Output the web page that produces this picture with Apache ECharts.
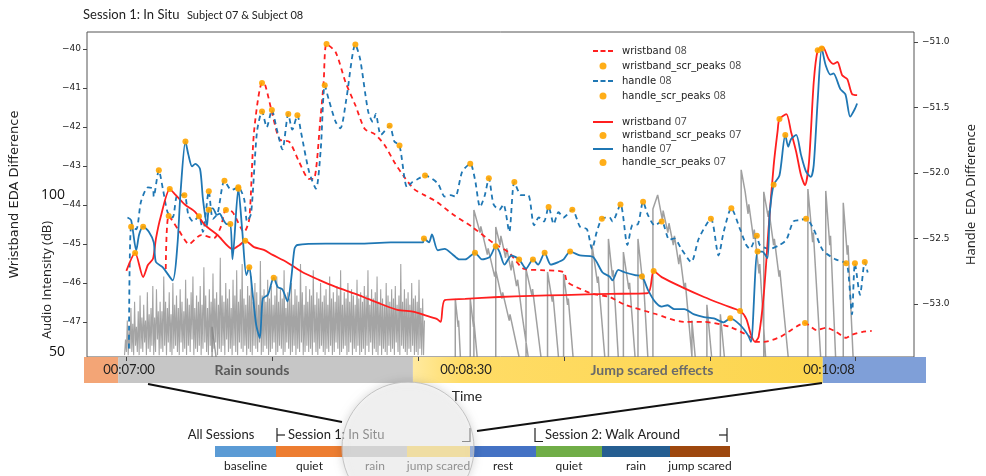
<!DOCTYPE html>
<html>
<head>
<meta charset="utf-8">
<script src="https://cdn.jsdelivr.net/npm/echarts@6/dist/echarts.min.js"></script>
<style>
  html, body { margin: 0; padding: 0; background: #fff; }
  #chart { width: 986px; height: 476px; }
</style>
</head>
<body>
<div id="chart"></div>
<script>
// ---- EDA traces: [time (s), value] ----
// wristband traces use the left axis, handle traces the right axis
const wristband08 = [
  [430.8,-45.64],[431.6,-44.28],[434.3,-44.64],[437.2,-45.0],[440.5,-44.77],[444.0,-44.85],[445.9,-44.56],
  [447.3,-44.13],[449.1,-44.18],[452.3,-44.69],[453.7,-44.36],[455.0,-42.13],[457.2,-40.87],[458.0,-40.9],
  [460.1,-41.69],[462.0,-42.31],[464.7,-42.38],[467.4,-42.90],[470.1,-43.33],[471.4,-43.33],[473.3,-41.69],
  [474.1,-40.85],[474.9,-39.87],[477.4,-40.08],[480.1,-40.85],[482.8,-41.44],[485.4,-42.05],[488.1,-42.18],
  [490.8,-42.46],[493.5,-42.90],[496.2,-43.28],[498.9,-43.59],[501.6,-43.74],[505.1,-43.92],[509.4,-44.23],
  [514.8,-44.56],[521.0,-45.0],[524.8,-45.21],[529.1,-45.64],[533.7,-45.67],[539.9,-45.72],[540.9,-45.97],
  [544.4,-46.15],[547.9,-46.28],[552.5,-46.36],[556.8,-46.56],[564.9,-46.79],[573.0,-47.0],[578.4,-47.0],
  [585.6,-47.13],[591.0,-47.38],[592.6,-47.51],[594.8,-47.51],[599.4,-47.38],[606.1,-47.03],[609.3,-47.21],
  [612.0,-47.15],[614.7,-47.26],[617.4,-47.41],[619.0,-47.33],[621.7,-47.26],[624.4,-47.23]
];
const wristband08Peaks = [[431.6,-44.28],[447.3,-44.13],[457.2,-40.87],[474.9,-39.87],[606.1,-47.03]];

const handle08 = [
  [420.7,-53.34],[421.3,-52.41],[422.7,-52.43],[424.0,-52.22],[425.9,-52.11],[427.3,-52.12],[427.5,-52.18],
  [428.9,-51.98],[430.0,-52.12],[431.3,-52.30],[432.7,-52.34],[434.0,-52.17],[435.9,-52.17],[437.0,-52.32],
  [438.3,-52.37],[439.9,-52.33],[441.0,-52.45],[442.6,-52.14],[443.7,-52.35],[445.0,-52.31],[446.9,-52.06],
  [448.8,-52.13],[450.7,-52.11],[452.3,-52.20],[453.1,-52.37],[454.2,-52.31],[455.8,-51.69],[457.2,-51.53],
  [458.5,-51.65],[459.9,-51.52],[461.2,-51.66],[462.8,-51.82],[464.4,-51.55],[465.5,-51.67],[466.9,-51.56],
  [467.9,-51.69],[470.1,-51.99],[472.0,-52.12],[473.3,-51.82],[474.4,-51.33],[475.5,-51.44],[477.4,-51.61],
  [478.7,-51.66],[480.3,-51.44],[482.8,-51.02],[484.1,-51.13],[486.3,-51.53],[487.6,-51.61],[488.4,-51.55],
  [489.8,-51.71],[492.2,-51.64],[493.5,-51.76],[494.9,-51.79],[497.0,-52.11],[498.4,-52.07],[499.7,-52.05],
  [501.9,-52.02],[505.4,-52.08],[507.3,-52.18],[508.9,-52.17],[510.2,-52.18],[512.1,-51.99],[514.3,-51.93],
  [515.6,-52.05],[517.0,-52.26],[518.3,-52.17],[519.4,-52.04],[520.7,-52.24],[522.3,-52.28],[523.4,-52.24],
  [525.0,-52.45],[526.4,-52.07],[528.3,-52.17],[530.2,-52.17],[531.8,-52.40],[533.1,-52.34],[534.5,-52.37],
  [535.8,-52.26],[537.2,-52.39],[538.5,-52.30],[539.9,-52.34],[542.3,-52.28],[544.4,-52.41],[546.3,-52.43],
  [547.7,-52.58],[549.0,-52.45],[550.4,-52.35],[552.5,-52.34],[553.3,-52.37],[555.5,-52.24],[557.4,-52.55],
  [558.7,-52.40],[560.3,-52.39],[561.7,-52.22],[563.0,-52.32],[564.9,-52.40],[566.8,-52.37],[568.9,-52.51],
  [570.3,-52.50],[572.2,-52.58],[574.9,-52.68],[577.0,-52.50],[580.3,-52.35],[582.4,-52.63],[583.8,-52.45],
  [585.9,-52.27],[588.3,-52.43],[590.0,-52.55],[591.0,-52.58],[592.9,-52.48],[593.7,-52.55],[596.4,-52.58],
  [599.1,-52.55],[601.0,-52.51],[602.9,-52.37],[604.5,-52.36],[606.4,-52.35],[608.5,-52.43],[611.0,-52.59],
  [614.5,-52.66],[617.4,-52.69],[618.0,-52.76],[619.0,-53.08],[619.8,-52.69],[621.2,-52.93],[622.5,-52.68],
  [623.3,-52.76]
];
const handle08Peaks = [
  [421.3,-52.41],[428.9,-51.98],[435.9,-52.17],[439.9,-52.33],[442.6,-52.14],[446.9,-52.06],[450.7,-52.11],
  [457.2,-51.53],[459.9,-51.52],[464.4,-51.55],[466.9,-51.56],[474.4,-51.33],[482.8,-51.02],[492.2,-51.64],
  [494.9,-51.79],[501.9,-52.02],[514.3,-51.93],[519.4,-52.04],[526.4,-52.07],[535.8,-52.26],[542.3,-52.28],
  [550.4,-52.35],[555.5,-52.24],[561.7,-52.22],[566.8,-52.37],[580.3,-52.35],[585.9,-52.27],[592.9,-52.48],
  [606.4,-52.35],[617.4,-52.69],[619.8,-52.69],[622.5,-52.68]
];

const wristband07 = [
  [420.0,-45.69],[422.4,-45.23],[424.6,-45.85],[425.9,-45.54],[427.3,-45.38],[428.1,-44.87],[429.4,-44.31],
  [431.9,-43.59],[433.5,-43.74],[436.2,-44.0],[438.9,-44.18],[441.5,-44.51],[445.0,-44.77],[449.1,-45.13],
  [451.0,-45.03],[452.6,-44.92],[455.0,-45.08],[457.7,-45.15],[460.1,-45.28],[463.9,-45.46],[468.2,-45.72],
  [472.8,-45.92],[477.4,-46.10],[482.8,-46.28],[486.3,-46.41],[489.8,-46.54],[494.3,-46.69],[498.9,-46.74],
  [501.6,-46.82],[505.1,-46.92],[506.2,-47.0],[507.3,-46.44],[512.9,-46.41],[522.1,-46.36],[531.0,-46.33],
  [539.9,-46.31],[552.5,-46.28],[563.0,-46.26],[564.6,-45.69],[566.8,-45.85],[572.2,-46.10],[578.4,-46.36],
  [583.8,-46.56],[588.3,-46.72],[590.0,-46.92],[591.3,-47.33],[592.4,-47.51],[593.4,-47.38],[594.8,-46.3],
  [596.2,-44.5],[597.5,-43.0],[598.6,-42.1],[599.1,-41.79],[601.0,-41.67],[602.3,-42.13],[603.7,-42.64],
  [605.0,-43.23],[606.1,-43.49],[607.2,-42.90],[608.5,-40.85],[609.6,-40.03],[611.0,-39.95],[612.6,-40.26],
  [613.9,-40.38],[615.0,-40.33],[616.3,-40.67],[617.7,-40.77],[619.0,-41.15],[620.4,-41.18]
];
const wristband07Peaks = [[422.4,-45.23],[431.9,-43.59],[452.6,-44.92],[564.6,-45.69],[588.3,-46.72],[599.1,-41.79],[609.6,-40.03]];

const handle07 = [
  [420.3,-52.34],[421.3,-52.36],[422.7,-52.59],[423.5,-52.47],[424.6,-52.41],[426.2,-52.45],[427.5,-52.53],
  [428.1,-52.68],[430.0,-52.72],[432.7,-52.82],[434.0,-52.55],[434.8,-52.17],[436.2,-51.76],[437.0,-51.86],
  [438.0,-51.95],[438.9,-51.93],[440.2,-51.97],[441.0,-52.20],[442.1,-52.40],[442.6,-52.28],[443.7,-52.27],
  [444.8,-52.32],[445.6,-52.31],[446.4,-52.35],[447.5,-52.39],[448.5,-52.39],[449.1,-52.66],[450.7,-52.12],
  [451.8,-52.45],[452.9,-52.78],[453.7,-52.72],[454.5,-52.89],[455.6,-53.16],[456.6,-53.26],[457.4,-52.96],
  [458.8,-52.93],[460.4,-52.80],[461.5,-52.87],[462.8,-52.89],[464.2,-52.98],[465.2,-52.81],[466.1,-52.58],
  [466.9,-52.55],[474.7,-52.54],[483.6,-52.54],[492.5,-52.53],[501.3,-52.53],[501.6,-52.50],[503.0,-52.53],
  [503.8,-52.47],[505.4,-52.59],[507.3,-52.58],[509.4,-52.62],[511.3,-52.66],[512.9,-52.66],[515.6,-52.61],
  [517.5,-52.66],[519.7,-52.64],[521.3,-52.56],[522.3,-52.60],[523.7,-52.70],[525.6,-52.63],[527.7,-52.66],
  [529.6,-52.73],[531.5,-52.66],[532.9,-52.70],[534.7,-52.61],[536.4,-52.70],[538.5,-52.68],[539.9,-52.66],
  [541.7,-52.60],[544.4,-52.63],[547.9,-52.64],[550.6,-52.76],[552.5,-52.79],[553.3,-52.82],[554.9,-52.74],
  [556.8,-52.76],[559.5,-52.78],[561.4,-52.79],[563.0,-52.89],[564.9,-52.98],[566.8,-53.02],[568.4,-53.01],
  [570.3,-53.04],[573.0,-53.04],[575.7,-53.08],[578.4,-53.10],[581.1,-53.11],[583.8,-53.14],[585.6,-53.11],
  [588.3,-53.16],[590.5,-53.24],[591.3,-53.29],[593.1,-52.60],[594.4,-52.60],[595.8,-52.65],[596.4,-52.32],
  [597.5,-52.09],[599.1,-52.02],[600.7,-51.71],[601.5,-51.80],[602.3,-51.74],[603.7,-51.71],[605.0,-51.86],
  [606.4,-51.99],[607.7,-52.03],[608.5,-51.94],[609.6,-51.44],[610.7,-51.05],[611.8,-51.18],[613.1,-51.25],
  [613.9,-51.24],[615.8,-51.36],[617.2,-51.40],[618.5,-51.57],[619.8,-51.51],[620.4,-51.47]
];
const handle07Peaks = [
  [424.6,-52.41],[436.2,-51.76],[442.6,-52.28],[448.5,-52.39],[450.7,-52.12],[453.7,-52.72],[460.4,-52.80],
  [501.6,-52.50],[515.6,-52.61],[521.3,-52.56],[527.7,-52.66],[531.5,-52.66],[534.7,-52.61],[541.7,-52.60],
  [561.4,-52.79],[585.6,-53.11],[593.1,-52.60],[597.5,-52.09],[600.7,-51.71],[610.7,-51.05]
];

// ---- audio intensity (dB) ----
// rain sounds: peak level of each 0.5 s window
const audioRainStart = 419.5;
const audioRainStep = 0.5;
const audioRainPeaks = [
  54,60,57,64,59,66,58,63,68,61, 65,60,69,62,64,71,61,70,63,66,
  63,74,66,64,69,62,72,65,68,64, 70,66,63,73,67,65,69,74,64,68,
  66,71,65,77,68,64,70,66,75,67, 69,65,80,68,66,72,67,70,64,73,
  68,76,66,70,78,67,65,71,68,74, 66,72,69,65,79,68,70,66,73,67,
  71,65,68,74,66,70,67,76,64,69, 67,72,65,70,68,66,78,69,65,71,
  66,70,68,76,65,69,67,72,66,68, 70,65,74,67,69,66,71,68,76,65,
  69,67,72,66,70,68,65,73,67,69, 66,71,68,76,65,70,67,69,74,66,
  70,67,65,72,68,66,70,67,71,65, 68,78,66,70,67,69,65,72,67,68,
  66,73,64,67,60
];
// rain sounds: trough level of each window
const audioRainTroughs = [
  49,50,49,51,50,49,52,50,49,51, 50,53,49,51,50,52,49,50,54,49,
  51,50,52,49,53,50,49,51,52,50, 49,53,50,51,49,52,50,54,49,51,
  50,52,49,51,53,50,49,52,50,51, 53,49,51,50,52,49,54,50,51,49,
  52,50,49,53,51,50,52,49,51,50, 49,52,51,50,53,49,50,52,51,49,
  50,51,53,49,50,52,51,49,50,53, 51,49,50,52,49,51,50,53,49,50,
  52,50,51,49,53,50,49,51,52,50, 49,51,50,52,49,50,53,51,49,50,
  51,52,49,50,53,49,51,50,52,49, 50,51,49,52,50,53,49,51,50,49,
  52,49,51,50,49,52,50,51,49,53, 50,49,52,51,50,49,51,50,52,49,
  50,49,51,49,49
];
// jump scared effects: sharp onsets that decay
const audioJumpBursts = [
  [[443.5,48.4],[443.5,58],[444.6,48.4]],
  [[510.2,48.4],[510.2,66.9],[511.0,58],[511.1,60],[511.6,48.4]],
  [[514.3,48.4],[514.3,66.9],[515.2,58],[515.3,60],[516.2,48.4]],
  [[515.3,48.4],[515.3,95.2],[517.0,88],[517.2,90],[519.0,81],[519.2,83],[521.0,74],[521.3,76],[523.0,67],[523.2,69],[525.0,60],[525.2,62],[527.7,48.4]],
  [[521.3,48.4],[521.3,89.8],[522.5,84],[522.7,87],[524.0,80],[524.3,83],[525.5,76],[525.8,79],[527.0,71],[527.3,73],[528.5,62],[530.2,48.4]],
  [[529.6,48.4],[529.6,76.4],[531.2,68],[531.4,70],[533.7,48.4]],
  [[535.5,48.4],[535.5,75.5],[536.8,66],[537.0,68],[538.5,48.4]],
  [[539.9,48.4],[539.9,74.8],[541.0,65],[541.2,67],[542.5,48.4]],
  [[547.7,48.4],[547.7,84.1],[549.2,72],[549.4,74],[551.2,48.4]],
  [[552.2,48.4],[552.2,86.0],[553.3,74],[553.5,76],[554.9,48.4]],
  [[556.3,48.4],[556.3,81.8],[557.8,70],[558.0,72],[559.5,48.4]],
  [[560.3,48.4],[560.3,86.0],[561.5,73],[561.7,75],[563.0,48.4]],
  [[564.4,48.4],[564.4,95.5],[565.7,100],[567.0,92],[567.2,95],[568.5,88],[568.8,91],[570.0,84],[570.3,87],[571.5,78],[571.8,81],[573.0,70],[573.3,72],[575.1,48.4]],
  [[575.1,48.4],[575.1,60],[576.0,48.4]],
  [[579.2,48.4],[579.2,65],[580.5,48.4]],
  [[582.9,48.4],[582.9,62],[584.0,48.4]],
  [[588.6,48.4],[588.6,108],[589.7,101],[590.5,94],[590.7,97],[592.0,86],[592.2,89],[593.5,75],[593.7,78],[595.3,48.4]],
  [[594.8,48.4],[594.8,101],[596.0,93],[596.2,95],[597.5,84],[597.7,86],[599.0,74],[599.2,76],[601.5,48.4]],
  [[606.9,48.4],[606.9,101.9],[608.2,85],[608.4,88],[610.4,48.4]],
  [[611.8,48.4],[611.8,101.3],[612.9,84],[613.1,87],[614.5,48.4]],
  [[616.6,48.4],[616.6,97.5],[617.7,81],[617.9,84],[619.3,48.4]]
];

// ---- stimulus band under the time axis ----
const stimulusBand = [[409.2,418.4],[418.4,497.8],[497.8,608.2],[608.2,636.0]];

// ---- overall session timeline (relative durations) ----
const sessionSegments = [[0,61],[61,128],[128,192],[192,255],[255,321],[321,387],[387,455],[455,515]];
const sessionNames = ['baseline','quiet','rain','jump scared','rest','quiet','rain','jump scared'];
const sessionColors = ['#5b9bd5','#ed7d31','#bfbfbf','#ffd54f','#4472c4','#70ad47','#255e91','#9e480e'];

// ---- axis ticks ----
const wristTicks = [-47,-46,-45,-44,-43,-42,-41,-40];
const handleTicks = [-53.0,-52.5,-52.0,-51.5,-51.0];
const audioTicks = [50,100];
const timeTicks = [420,460,500,540,580,620];

// ---------------------------------------------------------------
const RED = '#ff1f1f', BLUE = '#1f77b4', PEAK = '#ffa500';
const tickFont = 'DejaVu Sans';
const minusFmt = d => v => (v < 0 ? '\u2212' : '') + Math.abs(v).toFixed(d);

const rainLine = [];
audioRainPeaks.forEach((p, i) => {
  const t = audioRainStart + i * audioRainStep;
  rainLine.push([t, audioRainTroughs[i]], [t + audioRainStep / 2, p]);
});
const jumpLine = [];
audioJumpBursts.forEach(b => { b.forEach(pt => jumpLine.push(pt)); jumpLine.push('-'); });

const bandFill = [
  '#f3a576',
  '#c6c6c6',
  new echarts.graphic.LinearGradient(0, 0, 1, 0, [
    {offset: 0, color: '#ffeaa0'}, {offset: 0.12, color: '#ffdc66'}, {offset: 1, color: '#fcd54e'}
  ]),
  '#7f9fd8'
];

const chart = echarts.init(document.getElementById('chart'));

const legendRich = {
  a: {fontFamily: tickFont, fontSize: 10, color: '#222'},
  b: {fontFamily: 'Open Sans', fontSize: 10.5, color: '#444'}
};
const legendFmt = name => {
  const i = name.lastIndexOf(' ');
  return '{a|' + name.slice(0, i) + '} {b|' + name.slice(i + 1) + '}';
};
const DASH_ICON = 'path://M0,0h5v2h-5z M7.5,0h5v2h-5z M15,0h5v2h-5z';
const SOLID_ICON = 'path://M0,0h20v2h-20z';

const edaLine = (name, data, color, dashed, yi) => ({
  name, type: 'line', data, yAxisIndex: yi, symbol: 'none', smooth: 0.25,
  lineStyle: {color, width: 1.8, type: dashed ? [5, 4] : 'solid'},
  itemStyle: {color}, z: 4
});
const peakDots = (name, data, yi) => ({
  name, type: 'scatter', data, yAxisIndex: yi, symbol: 'circle', symbolSize: 6,
  itemStyle: {color: PEAK, opacity: 0.9}, z: 6
});

const option = {
  animation: false,
  backgroundColor: '#fff',
  grid: [
    {left: 84, top: 32, width: 842, height: 325, show: true, borderColor: '#555', borderWidth: 1},
    {left: 84, top: 357, width: 842, height: 26},
    {left: 215, top: 446, width: 515, height: 11}
  ],
  xAxis: [
    {gridIndex: 0, type: 'value', min: 409.2, max: 636.0, z: 10,
      axisLine: {show: false}, splitLine: {show: false},
      axisTick: {show: true, length: 4, customValues: timeTicks, lineStyle: {color: '#444'}},
      axisLabel: {show: false}},
    {gridIndex: 1, type: 'value', min: 409.2, max: 636.0, show: false},
    {gridIndex: 2, type: 'value', min: 0, max: 515, show: false}
  ],
  yAxis: [
    {gridIndex: 0, type: 'value', position: 'left', min: -47.9, max: -39.56,
      name: 'Wristband EDA Difference', nameLocation: 'middle', nameGap: 66, nameRotate: 90,
      nameTextStyle: {fontFamily: tickFont, fontSize: 13, color: '#222'},
      axisLine: {show: false}, splitLine: {show: false},
      axisTick: {show: true, length: 4, customValues: wristTicks, lineStyle: {color: '#444'}},
      axisLabel: {customValues: wristTicks, margin: 6, fontFamily: tickFont, fontSize: 9, color: '#222', formatter: minusFmt(0)}},
    {gridIndex: 0, type: 'value', position: 'right', min: -53.405, max: -50.924,
      name: 'Handle  EDA Difference', nameLocation: 'middle', nameGap: 51, nameRotate: 90,
      nameTextStyle: {fontFamily: 'Open Sans', fontSize: 13, color: '#222'},
      axisLine: {show: false}, splitLine: {show: false},
      axisTick: {show: true, length: 4, customValues: handleTicks, lineStyle: {color: '#444'}},
      axisLabel: {customValues: handleTicks, margin: 8, fontFamily: tickFont, fontSize: 9, color: '#222', formatter: minusFmt(1)}},
    {gridIndex: 0, type: 'value', position: 'left', min: 48.4, max: 151.9,
      axisLine: {show: false}, axisTick: {show: false}, splitLine: {show: false},
      axisLabel: {customValues: audioTicks, margin: 22, fontFamily: 'Open Sans', fontSize: 14, color: '#111'}},
    {gridIndex: 1, type: 'value', min: 0, max: 1, show: false},
    {gridIndex: 2, type: 'value', min: 0, max: 1, show: false}
  ],
  legend: [
    {orient: 'vertical', left: 588, top: 40, itemWidth: 20, itemHeight: 7, itemGap: 3,
      data: [
        {name: 'wristband 08', icon: DASH_ICON}, {name: 'wristband_scr_peaks 08', icon: 'circle'},
        {name: 'handle 08', icon: DASH_ICON}, {name: 'handle_scr_peaks 08', icon: 'circle'}
      ],
      formatter: legendFmt, textStyle: {rich: legendRich, padding: [0, 0, 0, 4]}, selectedMode: false},
    {orient: 'vertical', left: 588, top: 111, itemWidth: 20, itemHeight: 7, itemGap: 1.5,
      data: [
        {name: 'wristband 07', icon: SOLID_ICON}, {name: 'wristband_scr_peaks 07', icon: 'circle'},
        {name: 'handle 07', icon: SOLID_ICON}, {name: 'handle_scr_peaks 07', icon: 'circle'}
      ],
      formatter: legendFmt, textStyle: {rich: legendRich, padding: [0, 0, 0, 4]}, selectedMode: false}
  ],
  series: [
    {name: 'audio rain', type: 'line', yAxisIndex: 2, data: rainLine, symbol: 'none',
      lineStyle: {color: '#858585', width: 1.1, opacity: 0.75}, z: 1, silent: true},
    {name: 'audio jump', type: 'line', yAxisIndex: 2, data: jumpLine, symbol: 'none', connectNulls: false,
      lineStyle: {color: '#808080', width: 1.5, opacity: 0.75}, z: 1, silent: true},
    edaLine('wristband 08', wristband08, RED, true, 0),
    peakDots('wristband_scr_peaks 08', wristband08Peaks, 0),
    edaLine('handle 08', handle08, BLUE, true, 1),
    peakDots('handle_scr_peaks 08', handle08Peaks, 1),
    edaLine('wristband 07', wristband07, RED, false, 0),
    peakDots('wristband_scr_peaks 07', wristband07Peaks, 0),
    edaLine('handle 07', handle07, BLUE, false, 1),
    peakDots('handle_scr_peaks 07', handle07Peaks, 1),
    {type: 'custom', xAxisIndex: 1, yAxisIndex: 3, data: stimulusBand, silent: true, clip: false,
      renderItem: (params, api) => {
        const a = api.coord([api.value(0), 1]);
        const b = api.coord([api.value(1), 0]);
        return {type: 'rect', shape: {x: a[0], y: a[1], width: b[0] - a[0], height: b[1] - a[1]},
          style: {fill: bandFill[params.dataIndex]}};
      }},
    {type: 'custom', xAxisIndex: 2, yAxisIndex: 4, data: sessionSegments, silent: true, clip: false,
      renderItem: (params, api) => {
        const a = api.coord([api.value(0), 1]);
        const b = api.coord([api.value(1), 0]);
        return {type: 'group', children: [
          {type: 'rect', shape: {x: a[0], y: a[1], width: b[0] - a[0], height: b[1] - a[1]},
            style: {fill: sessionColors[params.dataIndex]}},
          {type: 'text', style: {x: (a[0] + b[0]) / 2, y: b[1] + 9, text: sessionNames[params.dataIndex],
            textAlign: 'center', textVerticalAlign: 'middle', fill: '#222',
            font: '12px Lato'}}
        ]};
      }}
  ],
  graphic: [
    {type: 'text', left: 83, top: 8, style: {text: 'Session 1: In Situ', font: '13px Lato', fill: '#222'}},
    {type: 'text', left: 187, top: 10, style: {text: 'Subject 07 & Subject 08', font: '11px Lato', fill: '#222'}},
    {type: 'text', x: 47, y: 280, rotation: Math.PI / 2,
      style: {text: 'Audio Intensity (dB)', font: '13px "Open Sans"', fill: '#222', textAlign: 'center', textVerticalAlign: 'middle'}},
    {type: 'text', x: 129, y: 370, z: 20, style: {text: '00:07:00', font: '13px Lato', fill: '#222', textAlign: 'center', textVerticalAlign: 'middle'}},
    {type: 'text', x: 252, y: 370, z: 20, style: {text: 'Rain sounds', font: 'bold 14px Lato', fill: '#5a5a5a', textAlign: 'center', textVerticalAlign: 'middle'}},
    {type: 'text', x: 466, y: 370, z: 20, style: {text: '00:08:30', font: '13px Lato', fill: '#222', textAlign: 'center', textVerticalAlign: 'middle'}},
    {type: 'text', x: 652, y: 370, z: 20, style: {text: 'Jump scared effects', font: 'bold 14px Lato', fill: '#6a6a6a', textAlign: 'center', textVerticalAlign: 'middle'}},
    {type: 'text', x: 829, y: 370, z: 20, style: {text: '00:10:08', font: '13px Lato', fill: '#222', textAlign: 'center', textVerticalAlign: 'middle'}},
    {type: 'text', x: 467, y: 396, style: {text: 'Time', font: '14px Lato', fill: '#222', textAlign: 'center', textVerticalAlign: 'middle'}},
    {type: 'line', z: 90, shape: {x1: 148, y1: 384, x2: 342, y2: 422}, style: {stroke: '#111', lineWidth: 2}},
    {type: 'line', z: 90, shape: {x1: 822, y1: 383, x2: 477, y2: 431}, style: {stroke: '#111', lineWidth: 2}},
    {type: 'text', x: 221, y: 435, style: {text: 'All Sessions', font: '13px Lato', fill: '#222', textAlign: 'center', textVerticalAlign: 'middle'}},
    {type: 'text', x: 288, y: 435, style: {text: 'Session 1: In Situ', font: '13px Lato', fill: '#222', textAlign: 'left', textVerticalAlign: 'middle'}},
    {type: 'text', x: 545, y: 435, style: {text: 'Session 2: Walk Around', font: '13px Lato', fill: '#222', textAlign: 'left', textVerticalAlign: 'middle'}},
    {type: 'polyline', shape: {points: [[277, 428], [277, 442]]}, style: {stroke: '#222', lineWidth: 1.2}},
    {type: 'polyline', shape: {points: [[277, 435], [285, 435]]}, style: {stroke: '#222', lineWidth: 1.2}},
    {type: 'polyline', shape: {points: [[462, 441.5], [470, 441.5], [470, 428]]}, style: {stroke: '#222', lineWidth: 1.2, fill: null}},
    {type: 'polyline', shape: {points: [[535, 428], [535, 441.5], [543, 441.5]]}, style: {stroke: '#222', lineWidth: 1.2, fill: null}},
    {type: 'polyline', shape: {points: [[727, 428], [727, 442]]}, style: {stroke: '#222', lineWidth: 1.2}},
    {type: 'polyline', shape: {points: [[719, 435], [727, 435]]}, style: {stroke: '#222', lineWidth: 1.2}},
    {type: 'circle', z: 100, shape: {cx: 408, cy: 448, r: 66},
      style: {fill: 'rgba(255,255,255,0.5)', stroke: 'rgba(190,190,190,0.9)', lineWidth: 1,
        shadowBlur: 8, shadowColor: 'rgba(0,0,0,0.25)'}}
  ]
};

chart.setOption(option);
</script>
</body>
</html>
